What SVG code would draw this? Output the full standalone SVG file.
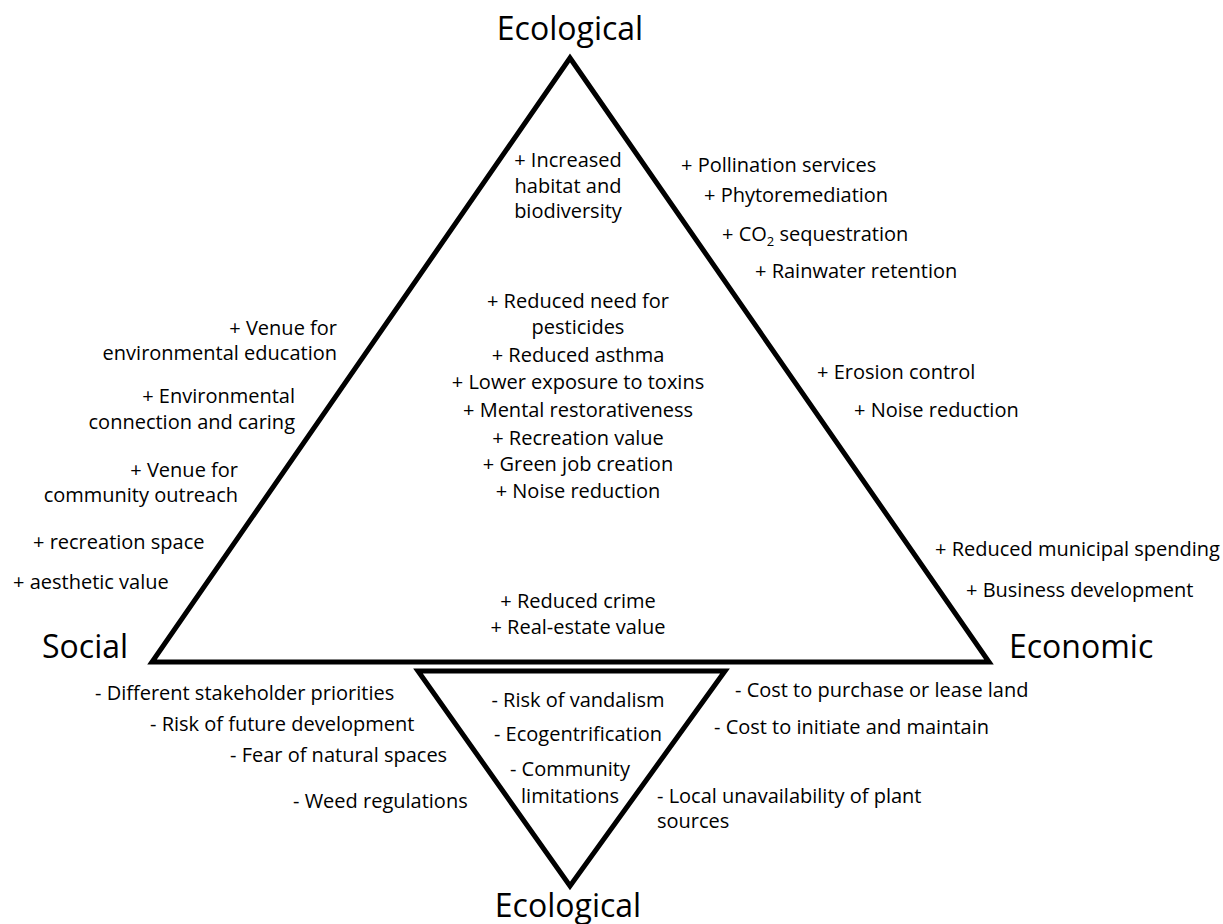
<svg xmlns="http://www.w3.org/2000/svg" width="1223" height="924" viewBox="0 0 1223 924">
<style>
text{font-family:"Open Sans","Liberation Sans",sans-serif;fill:#000;font-size:20px}
.lbl{font-size:32px}
.m{text-anchor:middle}
.e{text-anchor:end}
.tri{fill:none;stroke:#000;stroke-width:5;stroke-linejoin:miter}
</style>
<rect width="1223" height="924" fill="#fff"/>
<g id="benefits-triangle">
<polygon class="tri" points="570,58 152,662 989,662"/>
</g>
<g id="costs-triangle">
<polygon class="tri" points="418,671 725,671 570,886"/>
</g>
<g id="label-ecological-top"><text class="lbl m" x="570" y="40">Ecological</text></g>
<g id="label-social"><text class="lbl" x="42" y="658">Social</text></g>
<g id="label-economic"><text class="lbl" x="1009" y="658">Economic</text></g>
<g id="label-ecological-bottom"><text class="lbl m" x="568" y="917">Ecological</text></g>
<g id="ecological-benefits-inner">
<text class="m" x="568" y="167">+ Increased</text>
<text class="m" x="568" y="193">habitat and</text>
<text class="m" x="568" y="218">biodiversity</text>
</g>
<g id="shared-benefits">
<text class="m" x="578" y="308">+ Reduced need for</text>
<text class="m" x="578" y="334">pesticides</text>
<text class="m" x="578" y="362">+ Reduced asthma</text>
<text class="m" x="578" y="389">+ Lower exposure to toxins</text>
<text class="m" x="578" y="417">+ Mental restorativeness</text>
<text class="m" x="578" y="445">+ Recreation value</text>
<text class="m" x="578" y="471">+ Green job creation</text>
<text class="m" x="578" y="498">+ Noise reduction</text>
<text class="m" x="578" y="608">+ Reduced crime</text>
<text class="m" x="578" y="634">+ Real-estate value</text>
</g>
<g id="social-benefits">
<text class="e" x="337" y="335">+ Venue for</text>
<text class="e" x="337" y="360">environmental education</text>
<text class="e" x="295" y="403">+ Environmental</text>
<text class="e" x="295" y="429">connection and caring</text>
<text class="e" x="238" y="477">+ Venue for</text>
<text class="e" x="238" y="502">community outreach</text>
<text x="33" y="549">+ recreation space</text>
<text x="13" y="589">+ aesthetic value</text>
</g>
<g id="ecological-benefits-outer">
<text x="681" y="172">+ Pollination services</text>
<text x="704" y="202">+ Phytoremediation</text>
<text x="722" y="241">+ CO<tspan font-size="13" dy="5">2</tspan><tspan dy="-5"> sequestration</tspan></text>
<text x="755" y="278">+ Rainwater retention</text>
<text x="817" y="379">+ Erosion control</text>
<text x="854" y="417">+ Noise reduction</text>
</g>
<g id="economic-benefits">
<text x="935" y="556">+ Reduced municipal spending</text>
<text x="966" y="597">+ Business development</text>
</g>
<g id="social-costs">
<text x="95" y="700">- Different stakeholder priorities</text>
<text x="150" y="731">- Risk of future development</text>
<text x="230" y="762">- Fear of natural spaces</text>
<text x="293" y="808">- Weed regulations</text>
</g>
<g id="ecological-costs">
<text class="m" x="578" y="707">- Risk of vandalism</text>
<text class="m" x="578" y="741">- Ecogentrification</text>
<text class="m" x="570" y="776">- Community</text>
<text class="m" x="570" y="803">limitations</text>
</g>
<g id="economic-costs">
<text x="735" y="697">- Cost to purchase or lease land</text>
<text x="714" y="734">- Cost to initiate and maintain</text>
<text x="657" y="803">- Local unavailability of plant</text>
<text x="657" y="828">sources</text>
</g>
</svg>
